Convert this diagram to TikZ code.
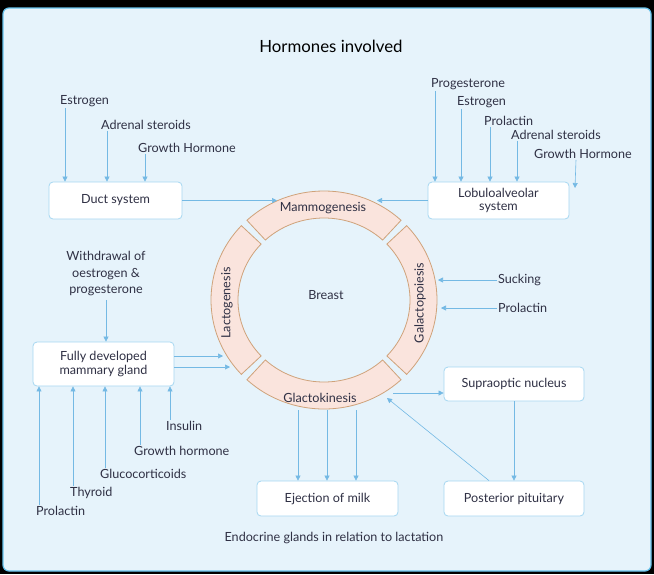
\documentclass[tikz,border=0pt]{standalone}
\usepackage{fontspec}
\setmainfont{Lato}
\usetikzlibrary{arrows.meta, calc}
\definecolor{cpanel}{HTML}{E6F3FB}
\definecolor{cedge}{HTML}{66C2EC}
\definecolor{carrow}{HTML}{74B9E4}
\definecolor{cbox}{HTML}{A6D7F1}
\definecolor{cring}{HTML}{CFA27A}
\definecolor{cringfill}{HTML}{FAE4DD}
\definecolor{ctext}{HTML}{2F3044}
\tikzset{
  every picture/.style={font=\fontsize{12.6}{14.5}\selectfont, text=ctext},
  box/.style={draw=cbox, fill=white, rounded corners=4pt, align=center, line width=0.8pt},
  arrow/.style={-{Triangle[length=5pt, width=5pt]}, draw=carrow, line width=0.6pt},
  hormone/.style={anchor=west, inner sep=1pt},
  segment/.style={draw=cring, fill=cringfill, line width=0.8pt},
  title/.style={font=\fontsize{16.8}{20}\selectfont, text=black},
}

\begin{document}
\begin{tikzpicture}[x=1pt, y=-1pt]
  % frame
  \fill[black] (0,0) rectangle (654,574);
  \useasboundingbox (0,0) rectangle (654,574);
  \filldraw[draw=cedge, fill=cpanel, line width=1.2pt, rounded corners=6pt] (3,8) rectangle (651,571);
  \node[title] (head) at (331,46) {Hormones involved};
  % the breast ring, four stages
  \coordinate (ring) at (324,300);
  \foreach \a in {0,90,180,270}
    \filldraw[segment] ($(ring)+(\a-43:113pt and 109pt)$) arc[start angle=\a-43, end angle=\a+43, x radius=113pt, y radius=109pt]
      -- ($(ring)+(\a+43:86pt and 82pt)$) arc[start angle=\a+43, end angle=\a-43, x radius=86pt, y radius=82pt] -- cycle;
  \node (breast) at (326,295) {Breast};
  \node (mammo) at (323,208) {Mammogenesis};
  \node[rotate=90] (lacto) at (227,303) {Lactogenesis};
  \node[rotate=90] (galacto) at (420,303) {Galactopoiesis};
  \node (glacto) at (320,398) {Glactokinesis};
  % duct system
  \node[box, minimum width=133pt, minimum height=37pt] (duct) at (115.5,200.5) {Duct system};
  \node[hormone] (estrL) at (59,101) {Estrogen};
  \node[hormone] (adrL) at (100,125) {Adrenal steroids};
  \node[hormone] (ghL) at (137,148) {Growth Hormone};
  \foreach \n/\s in {estrL/6, adrL/7, ghL/8}
    \draw[arrow] ([xshift=\s pt]\n.south west) -- ([xshift=\s pt]\n.south west |- duct.north);
  \coordinate (mL) at (277,200.5);
  \draw[arrow] (duct.east) -- (mL);
  % lobuloalveolar system
  \node[box, minimum width=141pt, minimum height=37pt, font=\fontsize{12.6}{13.5}\selectfont] (lobu) at (498.5,200.5) {Lobuloalveolar\\system};
  \node[hormone] (progR) at (430,84) {Progesterone};
  \node[hormone] (estrR) at (456,102) {Estrogen};
  \node[hormone] (prlR) at (483,121) {Prolactin};
  \node[hormone] (adrR) at (510,135) {Adrenal steroids};
  \node[hormone] (ghR) at (533,154) {Growth Hormone};
  \foreach \n/\s in {progR/5, estrR/5, prlR/7, adrR/7}
    \draw[arrow] ([xshift=\s pt]\n.south west) -- ([xshift=\s pt]\n.south west |- lobu.north);
  \coordinate (ghEnd) at (575,188);
  \draw[arrow] ([xshift=43pt]ghR.south west) -- (ghEnd);
  \coordinate (mR) at (377,200.5);
  \draw[arrow] (lobu.west) -- (mR);
  % fully developed gland
  \node[box, minimum width=141pt, minimum height=44pt] (fully) at (103.5,364) {Fully developed\\mammary gland};
  \node[align=center, font=\fontsize{12.6}{16.5}\selectfont] (withd) at (106,274) {Withdrawal of\\oestrogen \&\\progesterone};
  \draw[arrow] (withd.south) -- (withd.south |- fully.north);
  \node[hormone] (prlB) at (35,511) {Prolactin};
  \node[hormone] (thy) at (69,493) {Thyroid};
  \node[hormone] (gluc) at (99,474) {Glucocorticoids};
  \node[hormone] (ghB) at (133,451) {Growth hormone};
  \node[hormone] (ins) at (165,426) {Insulin};
  \foreach \n/\s in {prlB/4, thy/4, gluc/6, ghB/7, ins/5}
    \draw[arrow] ([xshift=\s pt]\n.north west) -- ([xshift=\s pt]\n.north west |- fully.south);
  \coordinate (lA) at (223,356);
  \coordinate (lB) at (230,367);
  \draw[arrow] ([yshift=8pt]fully.east) -- (lA);
  \draw[arrow] ([yshift=-3pt]fully.east) -- (lB);
  % galactopoiesis inputs
  \node[hormone] (suck) at (497,280) {Sucking};
  \node[hormone] (prlG) at (497,308) {Prolactin};
  \coordinate (sA) at (438,280);
  \coordinate (sB) at (441,308);
  \draw[arrow] (suck.west) -- (sA);
  \draw[arrow] (prlG.west) -- (sB);
  % milk ejection reflex
  \node[box, minimum width=141pt, minimum height=35pt] (eject) at (327.5,498.5) {Ejection of milk};
  \node[box, minimum width=140pt, minimum height=34pt] (supra) at (514,384) {Supraoptic nucleus};
  \node[box, minimum width=140pt, minimum height=35pt] (post) at (514,498.5) {Posterior pituitary};
  \foreach \x in {298,327,356} {
    \coordinate (g\x) at (\x,410);
    \draw[arrow] (g\x) -- (g\x |- eject.north);
  }
  \coordinate (gR) at (393,393);
  \coordinate (gD) at (387,398);
  \draw[arrow] (gR) -- (gR -| supra.west);
  \draw[arrow] (supra.south) -- (post.north);
  \draw[arrow] ([xshift=-25pt]post.north) -- (gD);
  \node (caption) at (334,538) {Endocrine glands in relation to lactation};
\end{tikzpicture}
\end{document}
